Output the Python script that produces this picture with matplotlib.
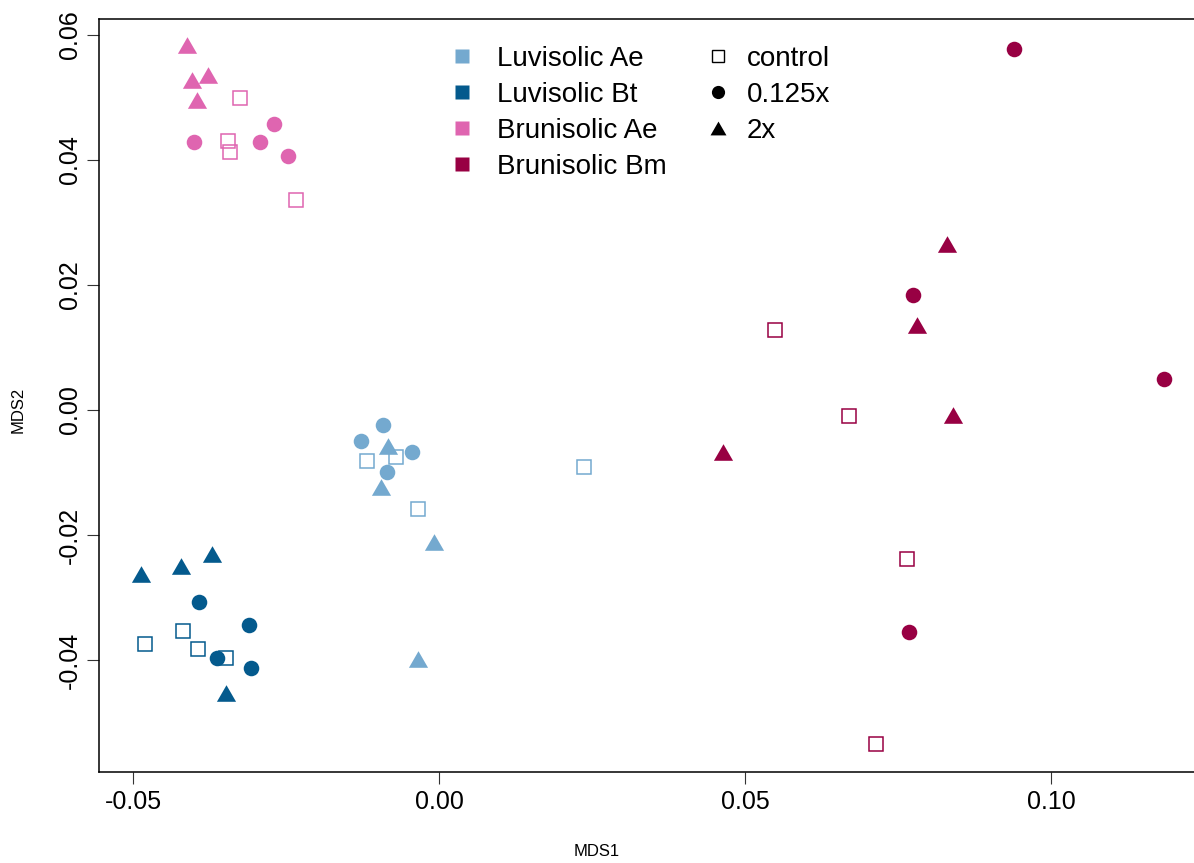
import matplotlib
matplotlib.use("Agg")
import matplotlib.pyplot as plt
from matplotlib.lines import Line2D
from matplotlib.path import Path
import numpy as np

# ---------------- data ----------------
groups = ["Luvisolic Ae", "Luvisolic Bt", "Brunisolic Ae", "Brunisolic Bm"]
group_colors = ["#74a9cf", "#045a8d", "#df65b0", "#980043"]
treatments = ["control", "0.125x", "2x"]

trt = ["control"] * 4 + ["0.125x"] * 4 + ["2x"] * 4

luv_ae_mds1 = [-0.0118, -0.0070, -0.0035, 0.0237,
               -0.0091, -0.0127, -0.0045, -0.0085,
               -0.0083, -0.0095, -0.0008, -0.0035]
luv_ae_mds2 = [-0.0081, -0.0075, -0.0158, -0.0092,
               -0.0024, -0.0050, -0.0067, -0.0099,
               -0.0058, -0.0124, -0.0212, -0.0399]

luv_bt_mds1 = [-0.0481, -0.0418, -0.0393, -0.0348,
               -0.0392, -0.0311, -0.0362, -0.0308,
               -0.0487, -0.0422, -0.0371, -0.0348]
luv_bt_mds2 = [-0.0375, -0.0353, -0.0382, -0.0397,
               -0.0307, -0.0344, -0.0397, -0.0412,
               -0.0263, -0.0250, -0.0230, -0.0452]

bru_ae_mds1 = [-0.0325, -0.0344, -0.0342, -0.0234,
               -0.0401, -0.0269, -0.0293, -0.0246,
               -0.0412, -0.0403, -0.0378, -0.0395]
bru_ae_mds2 = [0.0499, 0.0430, 0.0413, 0.0335,
               0.0429, 0.0457, 0.0429, 0.0406,
               0.0584, 0.0528, 0.0535, 0.0496]

bru_bm_mds1 = [0.0548, 0.0670, 0.0764, 0.0714,
               0.0939, 0.0774, 0.1184, 0.0768,
               0.0829, 0.0780, 0.0839, 0.0463]
bru_bm_mds2 = [0.0128, -0.0009, -0.0238, -0.0534,
               0.0577, 0.0183, 0.0050, -0.0355,
               0.0266, 0.0136, -0.0008, -0.0067]

xticks = [-0.05, 0.00, 0.05, 0.10]
xtick_labels = ["-0.05", "0.00", "0.05", "0.10"]
yticks = [-0.04, -0.02, 0.00, 0.02, 0.04, 0.06]
ytick_labels = ["-0.04", "-0.02", "0.00", "0.02", "0.04", "0.06"]

# ---------------- styling ----------------
plt.rcParams["font.family"] = ["Liberation Sans", "DejaVu Sans"]

tri = Path([(-1, -0.866), (1, -0.866), (0, 0.866), (-1, -0.866)],
           [Path.MOVETO, Path.LINETO, Path.LINETO, Path.CLOSEPOLY])

def style_for(t, color):
    if t == "control":
        return dict(marker="s", markersize=9.4, markerfacecolor="none",
                    markeredgecolor=color, markeredgewidth=1.1)
    if t == "0.125x":
        return dict(marker="o", markersize=11.2, markerfacecolor=color,
                    markeredgecolor="none")
    return dict(marker=tri, markersize=13.8, markerfacecolor=color,
                markeredgecolor="none")

W, H = 1194, 863
fig = plt.figure(figsize=(W / 100, H / 100), dpi=100)
ax = fig.add_axes([99.3 / W, 1 - 772 / H, (W - 99.3) / W, (772 - 19) / H])

data = [(luv_ae_mds1, luv_ae_mds2), (luv_bt_mds1, luv_bt_mds2),
        (bru_ae_mds1, bru_ae_mds2), (bru_bm_mds1, bru_bm_mds2)]

for t in treatments:
    for (xs, ys), col in zip(data, group_colors):
        xs = np.asarray(xs); ys = np.asarray(ys)
        m = np.array([v == t for v in trt])
        ax.plot(xs[m], ys[m], linestyle="none", **style_for(t, col))

ax.set_xlim(-0.0555, 0.1233)
ax.set_ylim(-0.0579, 0.0625)

ax.set_xticks(xticks)
ax.set_xticklabels(xtick_labels, fontsize=18)
ax.set_yticks(yticks)
ax.set_yticklabels(ytick_labels, fontsize=18, rotation=90, va="center")
ax.tick_params(axis="both", length=8.3, width=0.8, color="#333333")
ax.tick_params(axis="x", pad=5)
ax.tick_params(axis="y", pad=4)

for s in ["left", "bottom", "top"]:
    ax.spines[s].set_linewidth(1.1)
    ax.spines[s].set_color("black")
ax.spines["right"].set_visible(False)

fig.text(597 / W, 1 - 851 / H, "MDS1", fontsize=12,
         ha="center", va="center")
fig.text(18 / W, 1 - 410 / H, "MDS2", fontsize=12,
         ha="center", va="center", rotation=90)

# legends
h1 = [Line2D([], [], linestyle="none", marker="s", markersize=9.5,
             markerfacecolor=c, markeredgecolor="none") for c in group_colors]
leg1 = ax.legend(h1, groups, loc="upper left",
                 bbox_to_anchor=(448 / W, 1 - 46 / H),
                 bbox_transform=fig.transFigure, frameon=False,
                 fontsize=20, handlelength=1.0, handletextpad=0.75,
                 labelspacing=0.36, borderpad=0, borderaxespad=0)
ax.add_artist(leg1)

h2 = [Line2D([], [], linestyle="none", marker="s", markersize=8.5,
             markerfacecolor="none", markeredgecolor="black",
             markeredgewidth=1.0),
      Line2D([], [], linestyle="none", marker="o", markersize=9.5,
             markerfacecolor="black", markeredgecolor="none"),
      Line2D([], [], linestyle="none", marker=tri, markersize=11.5,
             markerfacecolor="black", markeredgecolor="none")]
leg2 = ax.legend(h2, treatments, loc="upper left",
                 bbox_to_anchor=(704 / W, 1 - 46 / H),
                 bbox_transform=fig.transFigure, frameon=False,
                 fontsize=20, handlelength=1.0, handletextpad=0.55,
                 labelspacing=0.36, borderpad=0, borderaxespad=0)

fig.savefig("out.png", dpi=100)
